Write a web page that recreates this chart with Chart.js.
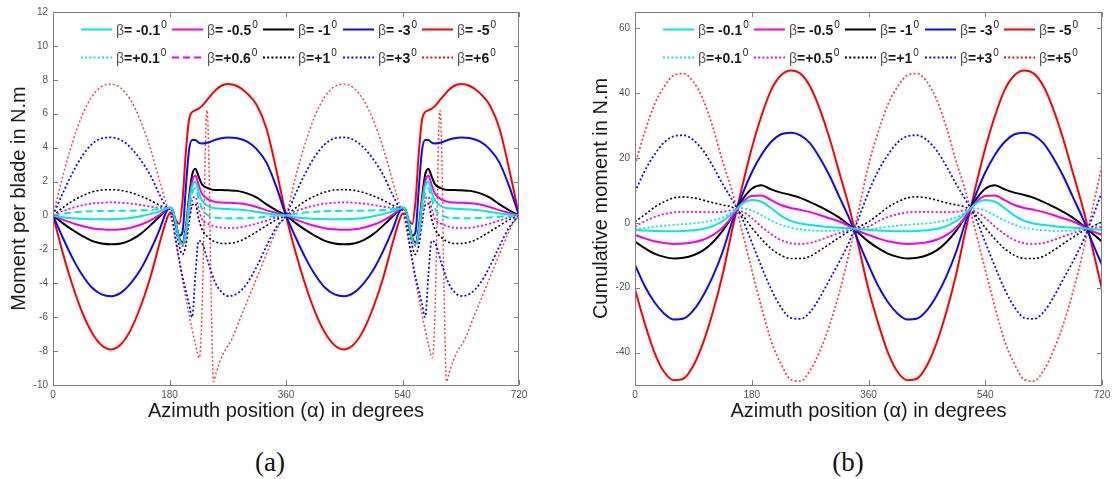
<!DOCTYPE html>
<html><head><meta charset="utf-8">
<script src="https://cdn.jsdelivr.net/npm/chart.js@4.4.0/dist/chart.umd.min.js"></script>
<style>
html,body{margin:0;padding:0;background:#fff;width:1116px;height:479px;overflow:hidden;font-family:"Liberation Sans",Arial,sans-serif}
#wa{position:absolute;left:0;top:0;width:545px;height:430px}
#wb{position:absolute;left:580px;top:0;width:536px;height:430px}
.cap{position:absolute;top:444px;font-family:"Liberation Serif","DejaVu Serif",serif;font-size:27px;color:#111;width:80px;text-align:center;line-height:36px}
</style></head><body>
<div id="wa"><canvas id="ca" width="545" height="430"></canvas></div>
<div id="wb"><canvas id="cb" width="536" height="430"></canvas></div>
<div class="cap" style="left:230px">(a)</div>
<div class="cap" style="left:808px">(b)</div>
<script>
// ---------- tick labels ----------
const X_TICKS = [0, 180, 360, 540, 720];
const Y_TICKS_A = [-10, -8, -6, -4, -2, 0, 2, 4, 6, 8, 10, 12];
const Y_TICKS_B = [-40, -20, 0, 20, 40, 60];

// ---------- legend labels ----------
const LEG_NEG_A = ['β= -0.1', 'β= -0.5', 'β= -1', 'β= -3', 'β= -5'];
const LEG_POS_A = ['β=+0.1', 'β=+0.6', 'β=+1', 'β=+3', 'β=+6'];
const LEG_NEG_B = ['β= -0.1', 'β= -0.5', 'β= -1', 'β= -3', 'β= -5'];
const LEG_POS_B = ['β=+0.1', 'β=+0.5', 'β=+1', 'β=+3', 'β=+5'];

// ---------- (a) moment per blade: azimuth angles ----------
const ANG_A = [0,15,30,45,60,75,90,105,120,135,150,165,175,180,185,190,195,200,205,210,215,220,225,230,240,250,260,270,285,300,315,330,345,
  360,375,390,405,420,435,450,465,480,495,510,525,535,540,545,550,555,560,565,570,575,580,585,590,600,610,620,630,645,660,675,690,705,
  720];
const A_NEG01 = [0,-0.1,-0.17,-0.2,-0.22,-0.23,-0.22,-0.2,-0.15,-0.05,0.08,0.25, 0.4,0.45,0.3,-0.5,-1.4,-1.7,-1.0,0.6,1.7,2.0,1.4,0.9, 0.55,0.42,0.4,0.38, 0.35,0.3,0.2,0.12,0.05,
  0,-0.1,-0.17,-0.2,-0.22,-0.23,-0.22,-0.2,-0.15,-0.05,0.08,0.25, 0.4,0.45,0.3,-0.5,-1.4,-1.7,-1.0,0.6,1.7,2.0,1.4,0.9, 0.55,0.42,0.4,0.38, 0.35,0.3,0.2,0.12,0.05, 0];
const A_NEG05 = [0,-0.25,-0.45,-0.62,-0.75,-0.82,-0.85,-0.82,-0.72,-0.55,-0.3,0.05, 0.35,0.45,0.3,-0.5,-1.4,-1.7,-1.0,0.8,2.0,2.35,1.8,1.3, 0.95,0.8,0.76,0.75, 0.72,0.65,0.5,0.3,0.15,
  0,-0.25,-0.45,-0.62,-0.75,-0.82,-0.85,-0.82,-0.72,-0.55,-0.3,0.05, 0.35,0.45,0.3,-0.5,-1.4,-1.7,-1.0,0.8,2.0,2.35,1.8,1.3, 0.95,0.8,0.76,0.75, 0.72,0.65,0.5,0.3,0.15, 0];
const A_NEG1 = [0,-0.45,-0.85,-1.2,-1.5,-1.65,-1.7,-1.65,-1.45,-1.1,-0.6,-0.05, 0.35,0.45,0.3,-0.5,-1.3,-1.6,-0.8,1.0,2.4,2.75,2.3,1.85, 1.6,1.5,1.5,1.48, 1.45,1.3,1.05,0.65,0.3,
  0,-0.45,-0.85,-1.2,-1.5,-1.65,-1.7,-1.65,-1.45,-1.1,-0.6,-0.05, 0.35,0.45,0.3,-0.5,-1.3,-1.6,-0.8,1.0,2.4,2.75,2.3,1.85, 1.6,1.5,1.5,1.48, 1.45,1.3,1.05,0.65,0.3, 0];
const A_NEG3 = [0,-1.3,-2.5,-3.5,-4.25,-4.65,-4.76,-4.55,-4.0,-3.2,-2.1,-0.8, 0.2,0.45,0.3,-0.6,-1.2,-1.0,1.5,3.8,4.45,4.45,4.3,4.25, 4.3,4.45,4.55,4.6, 4.55,4.35,3.9,3.1,1.7,
  0,-1.3,-2.5,-3.5,-4.25,-4.65,-4.76,-4.55,-4.0,-3.2,-2.1,-0.8, 0.2,0.45,0.3,-0.6,-1.2,-1.0,1.5,3.8,4.45,4.45,4.3,4.25, 4.3,4.45,4.55,4.6, 4.55,4.35,3.9,3.1,1.7, 0];
const A_NEG5 = [0,-2.2,-4.1,-5.7,-6.9,-7.65,-7.9,-7.6,-6.75,-5.4,-3.7,-1.6, -0.3,0.1,0.1,-0.3,-0.5,0.8,3.6,5.6,6.1,6.2,6.3,6.45, 6.9,7.35,7.65,7.75, 7.62,7.2,6.5,5.1,2.7,
  0,-2.2,-4.1,-5.7,-6.9,-7.65,-7.9,-7.6,-6.75,-5.4,-3.7,-1.6, -0.3,0.1,0.1,-0.3,-0.5,0.8,3.6,5.6,6.1,6.2,6.3,6.45, 6.9,7.35,7.65,7.75, 7.62,7.2,6.5,5.1,2.7, 0];
const A_POS01 = [0,0.1,0.17,0.22,0.25,0.26,0.27,0.28,0.28,0.3,0.32,0.38, 0.42,0.45,0.3,-0.5,-1.4,-1.7,-1.2,0.2,1.3,1.6,1.0,0.4, 0.0,-0.12,-0.15,-0.17, -0.17,-0.15,-0.12,-0.08,-0.04,
  0,0.1,0.17,0.22,0.25,0.26,0.27,0.28,0.28,0.3,0.32,0.38, 0.42,0.45,0.3,-0.5,-1.4,-1.7,-1.2,0.2,1.3,1.6,1.0,0.4, 0.0,-0.12,-0.15,-0.17, -0.17,-0.15,-0.12,-0.08,-0.04, 0];
const A_POS06 = [0,0.25,0.45,0.6,0.7,0.75,0.77,0.75,0.7,0.62,0.52,0.45, 0.45,0.45,0.25,-0.6,-1.5,-1.8,-1.4,-0.2,0.9,1.1,0.4,-0.2, -0.5,-0.65,-0.72,-0.75, -0.72,-0.62,-0.48,-0.3,-0.12,
  0,0.25,0.45,0.6,0.7,0.75,0.77,0.75,0.7,0.62,0.52,0.45, 0.45,0.45,0.25,-0.6,-1.5,-1.8,-1.4,-0.2,0.9,1.1,0.4,-0.2, -0.5,-0.65,-0.72,-0.75, -0.72,-0.62,-0.48,-0.3,-0.12, 0];
const A_POS1 = [0,0.45,0.85,1.15,1.38,1.5,1.52,1.48,1.35,1.15,0.9,0.6, 0.45,0.45,0.2,-0.8,-1.8,-2.3,-1.8,-0.5,0.6,0.7,-0.2,-0.8, -1.3,-1.55,-1.65,-1.65, -1.55,-1.3,-0.95,-0.6,-0.25,
  0,0.45,0.85,1.15,1.38,1.5,1.52,1.48,1.35,1.15,0.9,0.6, 0.45,0.45,0.2,-0.8,-1.8,-2.3,-1.8,-0.5,0.6,0.7,-0.2,-0.8, -1.3,-1.55,-1.65,-1.65, -1.55,-1.3,-0.95,-0.6,-0.25, 0];
const A_POS3 = [0,1.3,2.5,3.5,4.2,4.55,4.6,4.45,4.0,3.3,2.4,1.2, 0.5,0.35,-0.3,-1.5,-2.6,-3.6,-4.4,-5.2,-6.0,-3.5,-1.5,-1.6, -2.8,-3.9,-4.5,-4.75, -4.6,-4.0,-3.0,-1.8,-0.7,
  0,1.3,2.5,3.5,4.2,4.55,4.6,4.45,4.0,3.3,2.4,1.2, 0.5,0.35,-0.3,-1.5,-2.6,-3.6,-4.4,-5.2,-6.0,-3.5,-1.5,-1.6, -2.8,-3.9,-4.5,-4.75, -4.6,-4.0,-3.0,-1.8,-0.7, 0];
// β=+6 has sharp spikes, so it has its own angle list
const ANG_A6 = [0,15,30,45,60,75,90,105,120,135,150,165,175,180,185,190,200,210,220,226,230,233,236,238,241,244,248,252,258,265,275,290,305,320,335,350,
  360,375,390,405,420,435,450,465,480,495,510,525,535,540,545,550,560,570,580,586,590,593,596,598,601,604,608,612,618,625,635,650,665,680,695,710,
  720];
const A_POS6 = [0,2.3,4.3,5.9,7.0,7.6,7.75,7.5,6.8,5.6,4.0,2.0, 0.7,0.2,-0.6,-1.6,-3.8,-5.8,-7.6,-8.4,-6.0,-1.0,5.0,6.2, 3.0,-4.0,-9.8,-9.3,-8.6,-8.0,-7.4,-6.0,-4.6,-3.2,-1.8,-0.5,
  0,2.3,4.3,5.9,7.0,7.6,7.75,7.5,6.8,5.6,4.0,2.0, 0.7,0.2,-0.6,-1.6,-3.8,-5.8,-7.6,-8.4,-6.0,-1.0,5.0,6.2, 3.0,-4.0,-9.8,-9.3,-8.6,-8.0,-7.4,-6.0,-4.6,-3.2,-1.8,-0.5, 0];

// ---------- (b) cumulative moment ----------
const ANG_B = [0,15,30,45,60,75,90,105,120,135,150,165,180,195,210,225,240,255,270,285,300,315,330,345,
  360,375,390,405,420,435,450,465,480,495,510,525,540,555,570,585,600,615,630,645,660,675,690,705,720];
const B_NEG01 = [-2.2,-2.4,-2.5,-2.6,-2.6,-2.5,-2.3,-1.9,-1,0.5,3,5.8,7,6.5,4.5,2.2,0.6,-0.2,-0.7,-1,-1.3,-1.5,-1.7,-1.9,
  -2.2,-2.4,-2.5,-2.6,-2.6,-2.5,-2.3,-1.9,-1,0.5,3,5.8,7,6.5,4.5,2.2,0.6,-0.2,-0.7,-1,-1.3,-1.5,-1.7,-1.9,-2.2];
const B_NEG05 = [-3.7,-4.8,-5.7,-6.2,-6.5,-6.4,-6,-5.2,-3.8,-1.5,2,6.2,8.3,8.4,7,5.5,4.6,4,3.3,2.4,1.4,0.4,-1,-2.6,
  -3.7,-4.8,-5.7,-6.2,-6.5,-6.4,-6,-5.2,-3.8,-1.5,2,6.2,8.3,8.4,7,5.5,4.6,4,3.3,2.4,1.4,0.4,-1,-2.6,-3.7];
const B_NEG1 = [-5.8,-7.8,-9.5,-10.5,-11,-10.8,-10,-8.5,-6,-2.5,2,7,10.5,11.6,10.3,9.3,8.6,7.7,6.4,5,3.4,1.6,-0.7,-3.2,
  -5.8,-7.8,-9.5,-10.5,-11,-10.8,-10,-8.5,-6,-2.5,2,7,10.5,11.6,10.3,9.3,8.6,7.7,6.4,5,3.4,1.6,-0.7,-3.2,-5.8];
const B_NEG3 = [-13,-19.5,-24.5,-28,-29.8,-29.5,-27,-22.5,-16.5,-9,0.5,8.5,15.5,21,25,27.3,27.8,27,24.5,20,14.5,8,1.5,-6,
  -13,-19.5,-24.5,-28,-29.8,-29.5,-27,-22.5,-16.5,-9,0.5,8.5,15.5,21,25,27.3,27.8,27,24.5,20,14.5,8,1.5,-6,-13];
const B_NEG5 = [-20.5,-31,-40,-46,-48.5,-48,-44,-37,-27.5,-16,-2,11,23,33,41,45.5,47,46,42,35,26,15.5,5,-7.5,
  -20.5,-31,-40,-46,-48.5,-48,-44,-37,-27.5,-16,-2,11,23,33,41,45.5,47,46,42,35,26,15.5,5,-7.5,-20.5];
const B_POS01 = [-2,-1.6,-1.2,-0.9,-0.6,-0.4,-0.2,0.2,0.8,1.6,3.3,4.5,3.8,2.3,0.7,-0.6,-1.5,-2,-2.3,-2.5,-2.5,-2.4,-2.1,-2,
  -2,-1.6,-1.2,-0.9,-0.6,-0.4,-0.2,0.2,0.8,1.6,3.3,4.5,3.8,2.3,0.7,-0.6,-1.5,-2,-2.3,-2.5,-2.5,-2.4,-2.1,-2,-2];
const B_POS05 = [-1.2,0.5,1.8,2.7,3.2,3.4,3.4,3.3,3.3,3.4,3.9,3.5,1.5,-1.2,-3.5,-5.3,-6.3,-6.5,-6.2,-5.3,-4.2,-3.2,-2.3,-1.6,
  -1.2,0.5,1.8,2.7,3.2,3.4,3.4,3.3,3.3,3.4,3.9,3.5,1.5,-1.2,-3.5,-5.3,-6.3,-6.5,-6.2,-5.3,-4.2,-3.2,-2.3,-1.6,-1.2];
const B_POS1 = [0.3,2.5,4.8,6.5,7.7,8,7.7,7,6.2,5.5,4.8,2.5,-1.5,-5,-8,-10,-11,-11,-10.3,-8.5,-6.5,-4.5,-2.6,-1.2,
  0.3,2.5,4.8,6.5,7.7,8,7.7,7,6.2,5.5,4.8,2.5,-1.5,-5,-8,-10,-11,-11,-10.3,-8.5,-6.5,-4.5,-2.6,-1.2,0.3];
const B_POS3 = [9.5,16,21,24.8,26.7,27,25.5,22.3,17.5,12,7,1.5,-6,-13.5,-20.5,-26,-29.3,-29.6,-27.5,-23,-17.5,-12,-6,1.5,
  9.5,16,21,24.8,26.7,27,25.5,22.3,17.5,12,7,1.5,-6,-13.5,-20.5,-26,-29.3,-29.6,-27.5,-23,-17.5,-12,-6,1.5,9.5];
const B_POS5 = [17.8,28,36.5,42,45.5,46,43.5,38,29.5,19,9.5,-2.5,-14.5,-26,-36.5,-43.5,-48.3,-48.8,-45.5,-39.5,-31.5,-21.5,-9.5,4,
  17.8,28,36.5,42,45.5,46,43.5,38,29.5,19,9.5,-2.5,-14.5,-26,-36.5,-43.5,-48.3,-48.8,-45.5,-39.5,-31.5,-21.5,-9.5,4,17.8];

// ---------- styles ----------
const C_CYAN = '#00e8e8', C_MAG = '#f200f2', C_BLK = '#000000', C_BLUE = '#0a0aff', C_RED = '#ff0000';
const COLORS = [C_CYAN, C_MAG, C_BLK, C_BLUE, C_RED];
const FONT = '"Liberation Sans", Arial, sans-serif';

const pts = (xs, ys) => xs.map((x, i) => ({x: x, y: ys[i]}));
function ds(xs, ys, color, dash, width) {
  return {data: pts(xs, ys), borderColor: color, borderWidth: width, borderDash: dash,
    pointRadius: 0, fill: false, cubicInterpolationMode: 'monotone', borderCapStyle: 'butt'};
}

const framePlugin = {
  id: 'frame',
  afterDatasetsDraw(chart, args, o) {
    const {ctx, chartArea: a, scales} = chart;
    const x = scales.x, y = scales.y;
    ctx.save();
    ctx.strokeStyle = '#808080'; ctx.lineWidth = 1; ctx.setLineDash([]);
    ctx.strokeRect(Math.round(a.left) + 0.5, Math.round(a.top) + 0.5, Math.round(a.right - a.left) - 1, Math.round(a.bottom - a.top));
    ctx.beginPath();
    X_TICKS.forEach(v => {
      const p = Math.round(x.getPixelForValue(v)) + 0.5;
      ctx.moveTo(p, a.bottom); ctx.lineTo(p, a.bottom - 5);
      ctx.moveTo(p, a.top); ctx.lineTo(p, a.top + 5);
    });
    o.yTicks.forEach(v => {
      const p = Math.round(y.getPixelForValue(v)) + 0.5;
      ctx.moveTo(a.left, p); ctx.lineTo(a.left + 5, p);
      ctx.moveTo(a.right, p); ctx.lineTo(a.right - 5, p);
    });
    ctx.stroke();
    // legend (two rows of five)
    const cols = [28, 119, 210, 290, 369];
    const rows = [17, 45];
    [o.neg, o.pos].forEach((labels, r) => {
      labels.forEach((txt, c) => {
        const lx = a.left + cols[c], ly = a.top + rows[r];
        ctx.strokeStyle = COLORS[c];
        ctx.lineWidth = r === 0 ? 2 : 1.8;
        ctx.setLineDash(r === 0 ? [] : o.posDash[c]);
        ctx.beginPath(); ctx.moveTo(lx, ly + 0.5); ctx.lineTo(lx + 31, ly + 0.5); ctx.stroke();
        ctx.setLineDash([]);
        let tx = lx + 35;
        ctx.textBaseline = 'middle'; ctx.textAlign = 'left';
        ctx.fillStyle = '#555';
        ctx.font = '14px ' + FONT;
        ctx.fillText(txt[0], tx, ly + 2);
        tx += ctx.measureText(txt[0]).width;
        ctx.fillStyle = '#1a1a1a';
        ctx.font = 'bold 14px ' + FONT;
        const rest = txt.slice(1);
        ctx.fillText(rest, tx, ly + 2);
        tx += ctx.measureText(rest).width + 1;
        ctx.font = '10px ' + FONT;
        ctx.fillText('0', tx, ly - 4);
      });
    });
    ctx.restore();
  }
};

function makeChart(id, datasets, yMin, yMax, yTicks, yTitle, yWidth, yTitlePad, padRight, legend) {
  return new Chart(document.getElementById(id), {
    type: 'line',
    data: {datasets: datasets},
    options: {
      responsive: false, animation: false, devicePixelRatio: 1,
      layout: {padding: {left: 0, top: 12, right: padRight, bottom: 0}},
      plugins: {legend: {display: false}, tooltip: {enabled: false},
        frame: Object.assign({yTicks: yTicks}, legend)},
      scales: {
        x: {type: 'linear', min: 0, max: 720,
          grid: {display: false, drawTicks: false}, border: {display: false},
          afterBuildTicks: s => { s.ticks = X_TICKS.map(v => ({value: v})); },
          afterFit: s => { s.height = 45; },
          ticks: {color: '#555', font: {size: 10, family: FONT}, padding: 4, maxRotation: 0, autoSkip: false},
          title: {display: true, text: 'Azimuth position (α) in degrees', color: '#1a1a1a',
            font: {size: 20, family: FONT}, padding: {top: 0, bottom: 7}}},
        y: {type: 'linear', min: yMin, max: yMax,
          grid: {display: false, drawTicks: false}, border: {display: false},
          afterBuildTicks: s => { s.ticks = yTicks.map(v => ({value: v})); },
          afterFit: s => { s.width = yWidth; },
          ticks: {color: '#555', font: {size: 10, family: FONT}, padding: 5},
          title: {display: true, text: yTitle, color: '#1a1a1a',
            font: {size: 20, family: FONT}, padding: {top: yTitlePad, bottom: 0}}}
      }
    },
    plugins: [framePlugin]
  });
}

const DOT = [2, 2.2], DASH = [7, 4];
makeChart('ca', [
  ds(ANG_A, A_NEG01, C_CYAN, [], 2),
  ds(ANG_A, A_NEG05, C_MAG, [], 2),
  ds(ANG_A, A_NEG1, C_BLK, [], 2),
  ds(ANG_A, A_NEG3, C_BLUE, [], 2),
  ds(ANG_A, A_NEG5, C_RED, [], 2),
  ds(ANG_A, A_POS01, C_CYAN, DASH, 2),
  ds(ANG_A, A_POS06, C_MAG, DOT, 1.8),
  ds(ANG_A, A_POS1, C_BLK, DOT, 1.6),
  ds(ANG_A, A_POS3, C_BLUE, DOT, 1.8),
  ds(ANG_A6, A_POS6, 'rgba(255,0,0,0.75)', DOT, 1.5)
], -10, 12, Y_TICKS_A, 'Moment per blade in N.m', 53, 7, 26,
  {neg: LEG_NEG_A, pos: LEG_POS_A, posDash: [DOT, DASH, DOT, DOT, DOT]});

makeChart('cb', [
  ds(ANG_B, B_NEG01, C_CYAN, [], 2),
  ds(ANG_B, B_NEG05, C_MAG, [], 2),
  ds(ANG_B, B_NEG1, C_BLK, [], 2),
  ds(ANG_B, B_NEG3, C_BLUE, [], 2),
  ds(ANG_B, B_NEG5, C_RED, [], 2),
  ds(ANG_B, B_POS01, C_CYAN, DOT, 1.8),
  ds(ANG_B, B_POS05, C_MAG, DOT, 1.8),
  ds(ANG_B, B_POS1, C_BLK, DOT, 1.6),
  ds(ANG_B, B_POS3, C_BLUE, DOT, 1.8),
  ds(ANG_B, B_POS5, 'rgba(255,0,0,0.75)', DOT, 1.8)
], -50, 65, Y_TICKS_B, 'Cumulative moment in N.m', 55, 9, 14,
  {neg: LEG_NEG_B, pos: LEG_POS_B, posDash: [DOT, DOT, DOT, DOT, DOT]});
</script>
</body></html>
